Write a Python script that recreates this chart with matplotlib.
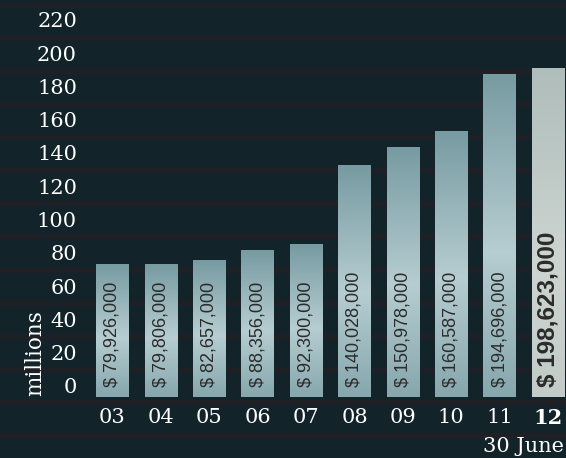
import numpy as np
import matplotlib
matplotlib.use("Agg")
import matplotlib.pyplot as plt
from matplotlib.colors import LinearSegmentedColormap
from matplotlib.transforms import ScaledTranslation, blended_transform_factory

years = ["03", "04", "05", "06", "07", "08", "09", "10", "11", "12"]
values = [79.926, 79.806, 82.657, 88.356, 92.300, 140.028, 150.978, 160.587, 194.696, 198.623]
bar_labels = ["$ 79,926,000", "$ 79,806,000", "$ 82,657,000", "$ 88,356,000", "$ 92,300,000",
              "$ 140,028,000", "$ 150,978,000", "$ 160,587,000", "$ 194,696,000", "$ 198,623,000"]
y_ticks = list(range(0, 221, 20))

BG = "#12232a"
BAND = "#1f1f26"
fig = plt.figure(figsize=(5.66, 4.58), dpi=100, facecolor=BG)
ax = fig.add_axes([0, 0, 1, 1])
ax.set_facecolor(BG)
ax.axis("off")

def px_offset(dx, dy):
    return ScaledTranslation(dx / 100, dy / 100, fig.dpi_scale_trans)

# horizontal bands
for v in list(range(-20, 241, 20)):
    ln = ax.axhline(v, color=BAND, lw=3.6, zorder=1)
    ln.set_transform(ln.get_transform() + px_offset(0, -5))

cmap_reg = LinearSegmentedColormap.from_list("reg", [(0, "#86a7ad"), (0.45, "#b6cdd1"), (1, "#779ba2")])
cmap_hi = LinearSegmentedColormap.from_list("hi", [(0, "#c2cbc7"), (0.4, "#cdd5d1"), (1, "#afbdbb")])
grad = np.linspace(0, 1, 256).reshape(-1, 1)

x = np.arange(len(years))
bars = ax.bar(x, values, width=0.67, color="none", zorder=2)
for i, b in enumerate(bars):
    x0, w, h = b.get_x(), b.get_width(), b.get_height()
    last = i == len(bars) - 1
    cm = cmap_hi if last else cmap_reg
    ax.imshow(grad, cmap=cm, origin="lower", aspect="auto",
              extent=(x0, x0 + w, 0, h), zorder=3, interpolation="bicubic")
    t = ax.text(x0 + w / 2, 0, bar_labels[i], rotation=90, ha="center", va="bottom",
                fontsize=17.5 if last else 13, fontweight="bold" if last else "normal",
                family=["Liberation Sans", "DejaVu Sans"], color="#2b2b2b", zorder=4)
    t.set_transform(ax.transData + px_offset(0, 10))
    tl = ax.text(x0 + w / 2, 0, years[i], ha="center", va="center",
                 fontsize=15, fontweight="bold" if last else "normal",
                 family="DejaVu Serif", color="white", zorder=4)
    tl.set_transform(ax.transData + px_offset(0, -21))

ax.set_xlim(-2.324, 9.37)
ax.set_ylim(-36.9, 239.9)

trans = blended_transform_factory(ax.transAxes, ax.transData)
for v in y_ticks:
    t = ax.text(77 / 566, v, str(v), ha="right", va="center", fontsize=15,
                family="DejaVu Serif", color="white", zorder=4)
    t.set_transform(trans + px_offset(0, 9 + v * 0.01))

fig.text(35 / 566, 1 - 353 / 458, "millions", rotation=90, ha="center", va="center",
         fontsize=15.5, family="DejaVu Serif", color="white")
fig.text(564 / 566, 1 - 446 / 458, "30 June", ha="right", va="center",
         fontsize=15, family="DejaVu Serif", color="white")

fig.savefig("out.png", dpi=100, facecolor=BG)
